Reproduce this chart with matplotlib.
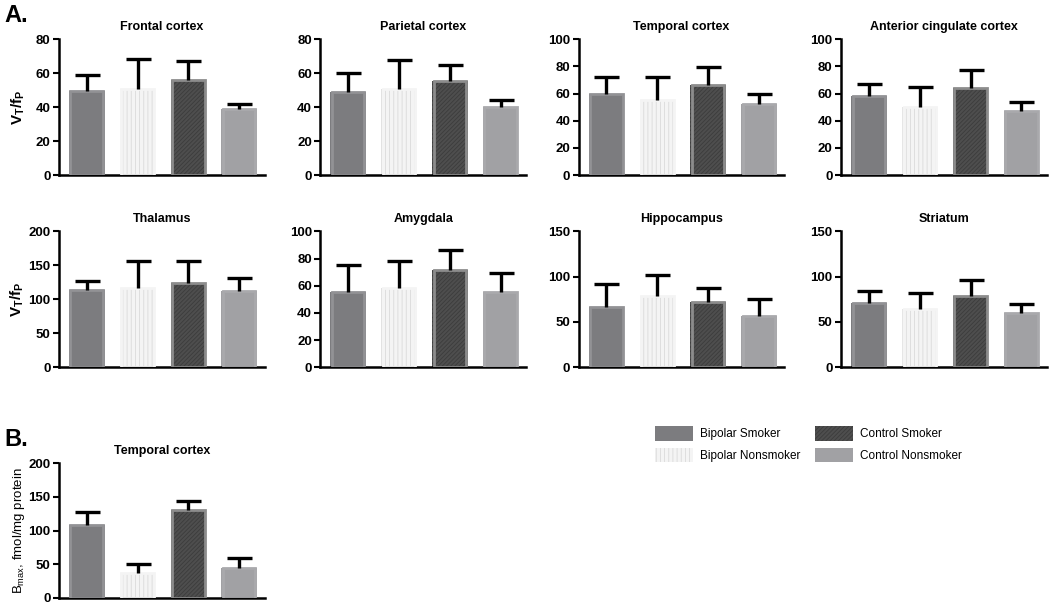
import numpy as np
import matplotlib
matplotlib.use("Agg")
import matplotlib.pyplot as plt
from matplotlib.patches import Patch

plt.rcParams['font.family'] = ['Liberation Sans', 'DejaVu Sans']
plt.rcParams['mathtext.fontset'] = 'custom'
plt.rcParams['mathtext.rm'] = 'Liberation Sans'
plt.rcParams['mathtext.bf'] = 'Liberation Sans:bold'
plt.rcParams['hatch.linewidth'] = 0.6

groups = ['Bipolar Smoker', 'Bipolar Nonsmoker', 'Control Smoker', 'Control Nonsmoker']

# panel A: VT/fP per region (mean, upper SD)
regions = ['Frontal cortex', 'Parietal cortex', 'Temporal cortex', 'Anterior cingulate cortex',
           'Thalamus', 'Amygdala', 'Hippocampus', 'Striatum']
means = [
    [49.5, 51, 56, 39],
    [49, 51, 55.5, 40],
    [59.5, 55.5, 66, 52],
    [58, 50.5, 64.5, 47],
    [113, 117, 124, 112],
    [55, 58.5, 71.5, 55],
    [66, 79, 72.5, 56],
    [71, 64.5, 79, 60],
]
errs = [
    [9.5, 17.5, 11, 3],
    [11, 17, 9.5, 4],
    [12.5, 16.5, 13.5, 7.5],
    [9, 14.5, 13, 7],
    [14, 40, 33, 19],
    [20.5, 19.5, 15, 14.5],
    [26, 23, 15.5, 19],
    [13, 17.5, 17, 9.5],
]
ymax = [80, 80, 100, 100, 200, 100, 150, 150]
ystep = [20, 20, 20, 20, 50, 20, 50, 50]

# panel B: Bmax temporal cortex
bmax_mean = [109, 37, 130, 44]
bmax_err = [18, 14, 14, 15]

fill = ['#7c7c7f', '#f4f4f4', '#4e4e4e', '#a1a1a4']
hatch_col = ['#7c7c7f', '#dadada', '#3c3c3c', '#a1a1a4']
hatches = [None, '||||', '////////', None]
border = ['#929295', '#f4f4f4', '#8c8c8c', '#a9a9ac']

fig = plt.figure(figsize=(10.5, 6.04), dpi=100)

lefts = [0.056, 0.305, 0.551, 0.801]
W = 0.196


def panel(ax, vals, err, top, step, title):
    x = np.arange(4)
    for i in range(4):
        ax.bar(x[i], vals[i], width=0.7, color=fill[i], edgecolor=hatch_col[i],
               hatch=hatches[i], linewidth=0, zorder=2)
        ax.bar(x[i], vals[i], width=0.64, fill=False, edgecolor=border[i],
               linewidth=2.0, zorder=3)
    eb = ax.errorbar(x, vals, yerr=[np.zeros(4), err], fmt='none', ecolor='black',
                     elinewidth=2.4, capsize=9, capthick=2.4, zorder=4)
    eb[1][0].set_visible(False)
    ax.set_xlim(-0.55, 3.5)
    ax.set_ylim(0, top)
    ax.set_yticks(np.arange(0, top + 1, step))
    ax.set_xticks([])
    for s in ['top', 'right']:
        ax.spines[s].set_visible(False)
    for s in ['left', 'bottom']:
        ax.spines[s].set_linewidth(1.8)
    ax.tick_params(axis='y', length=4, width=1.5, labelsize=9.5, pad=2)
    for lab in ax.get_yticklabels():
        lab.set_fontweight('bold')
    ax.set_title(title, fontsize=9, fontweight='bold', pad=7)


axes = []
for k in range(8):
    row = k // 4
    bottom = 0.710 if row == 0 else 0.392
    ax = fig.add_axes([lefts[k % 4], bottom, W, 0.225])
    panel(ax, means[k], errs[k], ymax[k], ystep[k], regions[k])
    axes.append(ax)

axes[0].set_ylabel(r'$\mathbf{V_T/f_P}$', fontsize=11, labelpad=6)
axes[4].set_ylabel(r'$\mathbf{V_T/f_P}$', fontsize=11, labelpad=2)

axb = fig.add_axes([lefts[0], 0.010, W, 0.223])
panel(axb, bmax_mean, bmax_err, 200, 50, 'Temporal cortex')
axb.set_ylabel(r'B$_{\rm max}$, fmol/mg protein', fontsize=9.5, labelpad=1)

fig.text(0.004, 0.975, 'A.', fontsize=17, fontweight='bold', va='center')
fig.text(0.004, 0.272, 'B.', fontsize=17, fontweight='bold', va='center')

handles = [Patch(facecolor=fill[i], edgecolor=hatch_col[i], hatch=hatches[i], linewidth=0)
           for i in range(4)]
fig.legend(handles, groups, ncol=2, loc='upper left', bbox_to_anchor=(0.614, 0.312),
           frameon=False, fontsize=8.5, handlelength=3.2, handleheight=1.5,
           columnspacing=1.2, labelspacing=0.6, handletextpad=0.6)

fig.savefig('out.png', dpi=100)
